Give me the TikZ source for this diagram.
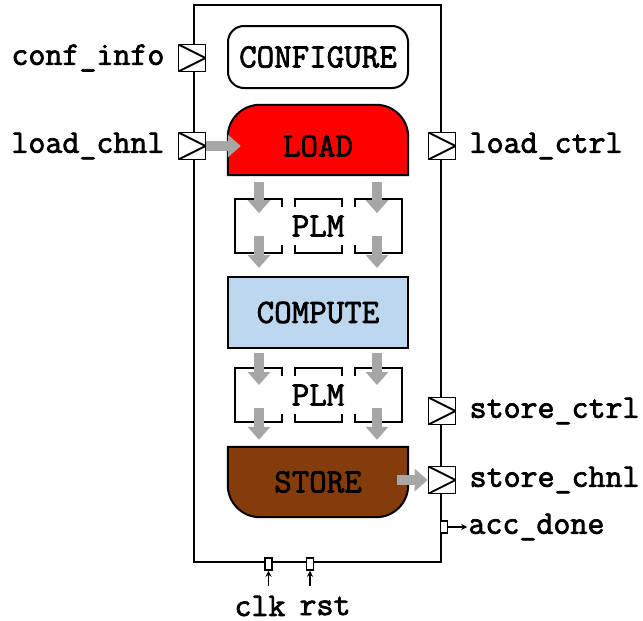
\documentclass[tikz,border=0pt]{standalone}
\usepackage{fontspec}
\usepackage{tikz}
\usetikzlibrary{positioning,arrows.meta}
\usepackage{xcolor}

\newfontfamily\codefont{Latin Modern Mono}[FakeBold=2.2]

\definecolor{loadred}{HTML}{FF0000}
\definecolor{computeblue}{HTML}{BDD7EE}
\definecolor{storebrown}{HTML}{843C0C}
\definecolor{flowgray}{HTML}{A6A6A6}

\newcommand{\blocktext}{\codefont\fontsize{34}{36}\selectfont}
\newcommand{\sigtext}{\codefont\fontsize{33}{35}\selectfont}

\tikzset{
  stagebox/.style={minimum width=180pt, minimum height=70pt, inner sep=0pt, font=\blocktext},
  portbox/.style={draw, line width=1.8pt, fill=white, minimum size=27pt, inner sep=0pt,
    path picture={\draw[line width=1.8pt] (path picture bounding box.north west)
      -- (path picture bounding box.east) -- (path picture bounding box.south west);}},
  pinbox/.style={draw, line width=1.5pt, fill=white, minimum width=7pt, minimum height=12pt, inner sep=0pt},
  siglabel/.style={inner sep=0pt, font=\sigtext},
  flowarrow/.style={flowgray, line width=10pt, -{Triangle[length=13pt,width=22pt]}},
  bank/.style={line width=2pt},
  sigarrow/.style={line width=1.5pt, -{Stealth[length=6pt,width=6pt]}},
}

\begin{document}
\begin{tikzpicture}[x=1pt,y=-1pt]
  \useasboundingbox (0,0) rectangle (643,621);

  % accelerator outline
  \draw[line width=2.2pt] (194,5) rectangle (441,562);

  % stages
  \node[stagebox, draw, line width=2pt, rounded corners=16pt, minimum height=62pt] (configure) at (318,57) {CONFIGURE};
  \node[stagebox] (load) at (318,140) {};
  \draw[line width=2pt, fill=loadred] (load.south west) -- ([yshift=-32pt]load.north west)
    arc[start angle=180, end angle=90, radius=32pt] -- ([xshift=-32pt]load.north east)
    arc[start angle=90, end angle=0, radius=32pt] -- (load.south east) -- cycle;
  \node[font=\blocktext] at ([yshift=-6pt]load.center) {LOAD};
  \node[stagebox, draw, line width=2pt, fill=computeblue, minimum height=71pt] (compute) at (318,312.5) {COMPUTE};
  \node[stagebox] (store) at (318,482) {};
  \draw[line width=2pt, fill=storebrown] (store.north west) -- ([yshift=32pt]store.south west)
    arc[start angle=180, end angle=270, radius=32pt] -- ([xshift=-32pt]store.south east)
    arc[start angle=270, end angle=360, radius=32pt] -- (store.north east) -- cycle;
  \node[font=\blocktext] at (store.center) {STORE};

  % private local memories
  \node[font=\blocktext, inner sep=0pt] (plmtop) at (318,226) {PLM};
  \node[font=\blocktext, inner sep=0pt] (plmbot) at (318,395) {PLM};
  \foreach \plm in {plmtop,plmbot} {
    \draw[bank] ([shift={(-36pt,19pt)}]\plm.center) -- ++(0pt,8pt) -- ++(-47pt,0pt) -- ++(0pt,-54pt) -- ++(47pt,0pt) -- ++(0pt,8pt);
    \draw[bank] ([shift={(-23pt,19pt)}]\plm.center) -- ++(0pt,8pt) -- ++(47pt,0pt) -- ++(0pt,-8pt);
    \draw[bank] ([shift={(-23pt,-19pt)}]\plm.center) -- ++(0pt,-8pt) -- ++(47pt,0pt) -- ++(0pt,8pt);
    \draw[bank] ([shift={(37pt,19pt)}]\plm.center) -- ++(0pt,8pt) -- ++(47pt,0pt) -- ++(0pt,-54pt) -- ++(-47pt,0pt) -- ++(0pt,8pt);
  }

  % data moving through the stages
  \foreach \col in {-59,59} {
    \draw[flowarrow] ([xshift=\col pt, yshift=-7pt]load.south) -- ([xshift=\col pt, yshift=-38pt]load.south);
    \draw[flowarrow] ([xshift=\col pt, yshift=40pt]compute.north) -- ([xshift=\col pt, yshift=8pt]compute.north);
    \draw[flowarrow] ([xshift=\col pt, yshift=-4pt]compute.south) -- ([xshift=\col pt, yshift=-36pt]compute.south);
    \draw[flowarrow] ([xshift=\col pt, yshift=39pt]store.north) -- ([xshift=\col pt, yshift=7pt]store.north);
  }

  % ports
  \node[portbox] (confin) at (192,58) {};
  \node[portbox] (loadin) at (192,146) {};
  \node[portbox] (loadctrl) at (442,146) {};
  \node[portbox] (storectrl) at (442,411) {};
  \node[portbox] (storeout) at (442,480) {};
  \node[siglabel, left=13pt of confin] (confinfo) {conf\_info};
  \node[siglabel, left=13pt of loadin] (loadchnl) {load\_chnl};
  \node[siglabel, right=13pt of loadctrl] (loadctrllbl) {load\_ctrl};
  \node[siglabel, right=13pt of storectrl] (storectrllbl) {store\_ctrl};
  \node[siglabel, right=13pt of storeout] (storechnl) {store\_chnl};

  \draw[flowarrow] (loadin.east) -- ([xshift=13pt]load.west |- loadin);
  \draw[flowarrow] ([xshift=-11pt]store.east |- storeout) -- (storeout.west);

  % done and clock/reset pins
  \node[pinbox] (accpin) at (444,527) {};
  \node[siglabel, right=20pt of accpin] (accdone) {acc\_done};
  \draw[sigarrow] (accpin.east) -- ([xshift=-1pt]accdone.west);

  \node[pinbox] (clkpin) at (268.5,564) {};
  \node[pinbox] (rstpin) at (310,564) {};
  \node[siglabel] (clk) at (260,606) {clk};
  \node[siglabel] (rst) at (325,606) {rst};
  \draw[sigarrow, shorten <=10pt] (clk.north -| clkpin) -- (clkpin.south);
  \draw[sigarrow, shorten <=10pt] (clk.north -| rstpin) -- (rstpin.south);
\end{tikzpicture}
\end{document}
